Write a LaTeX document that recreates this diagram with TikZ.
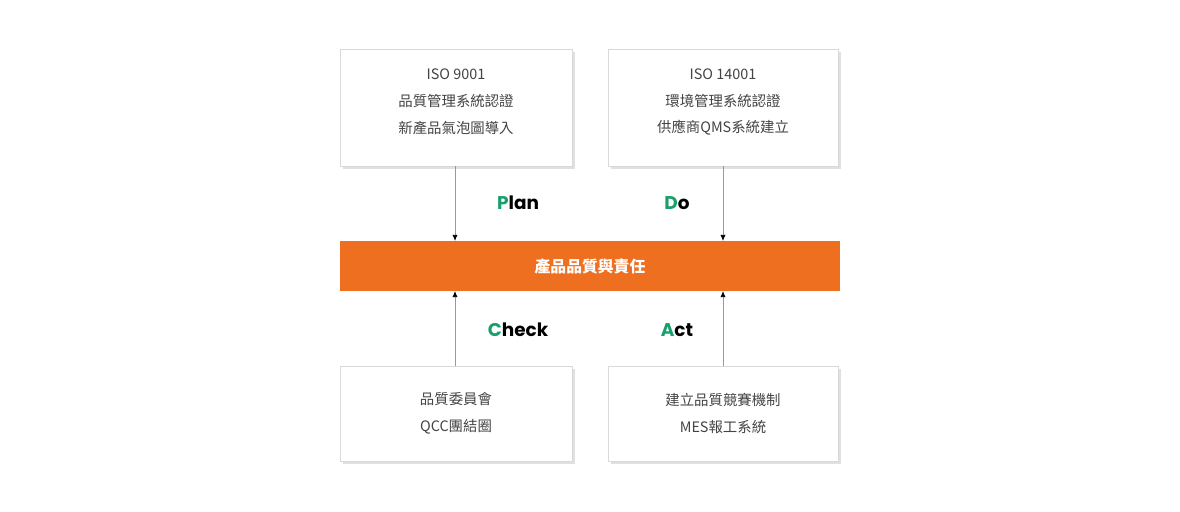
\documentclass[tikz,border=0pt]{standalone}
\usepackage{fontspec}
\usetikzlibrary{arrows.meta}
\setmainfont{Noto Sans CJK TC}
\newfontfamily\pop{Poppins}
\definecolor{og}{HTML}{EE6F1F}
\definecolor{gn}{HTML}{17A06B}
\definecolor{tx}{HTML}{444444}
\begin{document}
\begin{tikzpicture}[x=0.02cm,y=-0.02cm,
 box/.style={draw=black!15,fill=white,line width=0.5pt},
 sh/.style={fill=black!12,draw=none},
 t/.style={text=tx,font=\fontsize{8.2}{15.3}\selectfont,align=center,inner sep=0},
 lab/.style={font=\pop\fontsize{10.5}{12}\selectfont\bfseries,inner sep=0},
 ar/.style={draw=black!40,line width=0.5pt,-{Latex[length=3.5pt,width=3pt,black]}}]
\useasboundingbox (0,0) rectangle (1180,511);
\foreach \a/\b/\c/\d in {340/49/572/166,608/49/838/166,340/366/572/461,608/366/838/461}{
 \fill[sh] (\a+3,\b+3) rectangle (\c+3,\d+3);
}
\draw[box] (340,49) rectangle (572,166) coordinate (A);
\node[t] (a) at (456,102) {ISO 9001\\品質管理系統認證\\新產品氣泡圖導入};
\draw[box] (608,49) rectangle (838,166);
\node[t] (b) at (723,102) {ISO 14001\\環境管理系統認證\\供應商QMS系統建立};
\draw[box] (340,366) rectangle (572,461);
\node[t] (c) at (456,413.5) {品質委員會\\QCC團結圈};
\draw[box] (608,366) rectangle (838,461);
\node[t] (d) at (723,413.5) {建立品質競賽機制\\MES報工系統};
\fill[og] (340,241) rectangle (840,291);
\node[text=white,font=\fontsize{9}{10}\selectfont\bfseries] (m) at (590,266) {產品品質與責任};
\coordinate (a1) at (455,166); \coordinate (a2) at (455,241);
\coordinate (b1) at (723,166); \coordinate (b2) at (723,241);
\coordinate (c1) at (455,366); \coordinate (c2) at (455,291);
\coordinate (d1) at (723,366); \coordinate (d2) at (723,291);
\draw[ar] (a1)--(a2); \draw[ar] (b1)--(b2);
\draw[ar] (c1)--(c2); \draw[ar] (d1)--(d2);
\node[lab] (p) at (518,203) {\textcolor{gn}{P}lan};
\node[lab] (q) at (677,203) {\textcolor{gn}{D}o};
\node[lab] (r) at (518,330) {\textcolor{gn}{C}heck};
\node[lab] (s) at (677,330) {\textcolor{gn}{A}ct};
\end{tikzpicture}
\end{document}
